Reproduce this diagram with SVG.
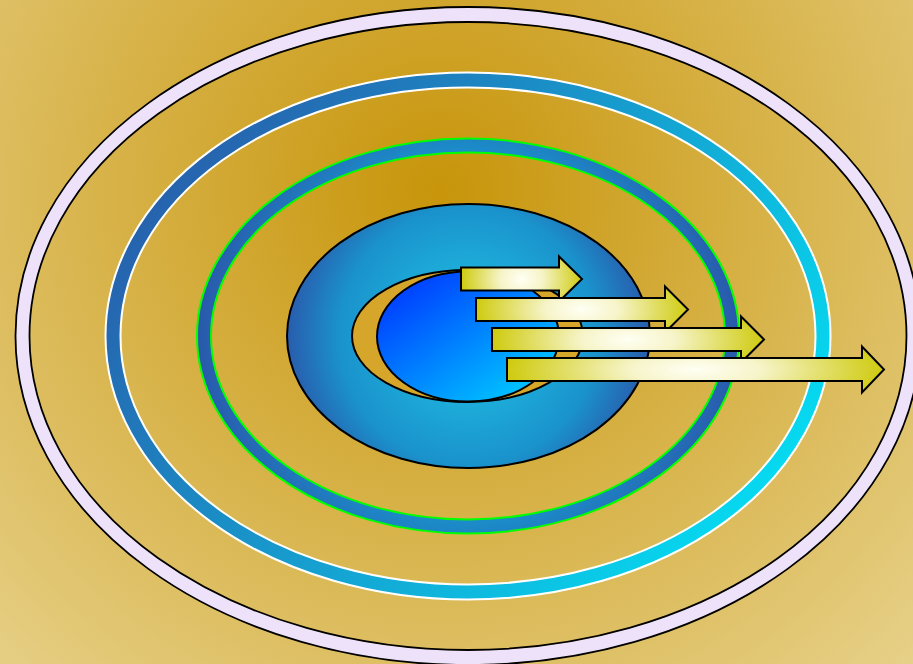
<svg xmlns="http://www.w3.org/2000/svg" width="913" height="664" viewBox="0 0 913 664">
  <defs>
    <radialGradient id="bg" gradientUnits="userSpaceOnUse" cx="440" cy="190" r="700">
      <stop offset="0" stop-color="#c8950a"/>
      <stop offset="1" stop-color="#e8d38e"/>
    </radialGradient>
    <linearGradient id="ring2" gradientUnits="userSpaceOnUse" x1="106" y1="72" x2="832" y2="599">
      <stop offset="0" stop-color="#2c4ea2"/>
      <stop offset="1" stop-color="#00eefc"/>
    </linearGradient>
    <radialGradient id="ring3" gradientUnits="userSpaceOnUse" cx="468" cy="336" r="270">
      <stop offset="0" stop-color="#20c8e8"/>
      <stop offset="0.7" stop-color="#1c8ac8"/>
      <stop offset="1" stop-color="#2a58aa"/>
    </radialGradient>
    <radialGradient id="core" gradientUnits="userSpaceOnUse" cx="468" cy="336" r="185">
      <stop offset="0" stop-color="#20c8e8"/>
      <stop offset="0.7" stop-color="#1a92cc"/>
      <stop offset="1" stop-color="#2a58aa"/>
    </radialGradient>
    <linearGradient id="inner" x1="0" y1="0" x2="1" y2="1">
      <stop offset="0" stop-color="#0028ff"/>
      <stop offset="1" stop-color="#00dcff"/>
    </linearGradient>
    <radialGradient id="arrowFill" cx="0.5" cy="0.5" r="0.5" gradientTransform="translate(0.5 0.5) scale(1 2.2) translate(-0.5 -0.5)">
      <stop offset="0" stop-color="#fffff4"/>
      <stop offset="0.35" stop-color="#f6f4c8"/>
      <stop offset="1" stop-color="#cfcb10"/>
    </radialGradient>
  </defs>
  <style>
    .edgeBlack { fill: none; stroke: #000; stroke-width: 1.8; }
    .edgeWhite { fill: none; stroke: #fff; stroke-width: 2; }
    .edgeGreen { fill: none; stroke: #00ff00; stroke-width: 2; }
    .arrow { fill: url(#arrowFill); stroke: #000; stroke-width: 2; stroke-linejoin: miter; }
  </style>

  <rect x="0" y="0" width="913" height="664" fill="url(#bg)"/>

  <g id="outer-ring">
    <ellipse cx="468" cy="336" rx="445.5" ry="321.5" fill="none" stroke="#eee2fb" stroke-width="14"/>
    <ellipse class="edgeBlack" cx="468" cy="336" rx="452.5" ry="329"/>
    <ellipse class="edgeBlack" cx="468" cy="336" rx="438.5" ry="314"/>
  </g>

  <g id="middle-ring">
    <ellipse cx="468" cy="336" rx="355" ry="256" fill="none" stroke="url(#ring2)" stroke-width="15"/>
    <ellipse class="edgeWhite" cx="468" cy="336" rx="362.5" ry="263.5"/>
    <ellipse class="edgeWhite" cx="468" cy="336" rx="347.5" ry="248.5"/>
  </g>

  <g id="inner-ring">
    <ellipse cx="468" cy="336" rx="264" ry="190.5" fill="none" stroke="url(#ring3)" stroke-width="14"/>
    <ellipse class="edgeGreen" cx="468" cy="336" rx="271" ry="197.5"/>
    <ellipse class="edgeGreen" cx="468" cy="336" rx="257" ry="183.5"/>
  </g>

  <g id="core-ellipse">
    <ellipse cx="468.5" cy="336" rx="181.5" ry="132" fill="url(#core)" stroke="#000" stroke-width="2"/>
  </g>

  <g id="crescent">
    <ellipse cx="467.5" cy="336" rx="115.5" ry="66" fill="#d6a62a" stroke="#000" stroke-width="2"/>
  </g>

  <g id="inner-ellipse">
    <ellipse cx="468" cy="336.5" rx="91" ry="65" fill="url(#inner)" stroke="#000" stroke-width="2"/>
  </g>

  <g id="arrows">
    <g id="arrow-1"><path class="arrow" d="M461,267.5 H559 V256.5 L582,279 L559,301.5 V290.5 H461 Z"/></g>
    <g id="arrow-2"><path class="arrow" d="M476,298 H665 V286.5 L688,309.5 L665,332.5 V321 H476 Z"/></g>
    <g id="arrow-3"><path class="arrow" d="M492,328 H741 V316.5 L764,339.5 L741,362.5 V351 H492 Z"/></g>
    <g id="arrow-4"><path class="arrow" d="M507,358 H862 V346.5 L884,369.5 L862,392.5 V381 H507 Z"/></g>
  </g>
</svg>
